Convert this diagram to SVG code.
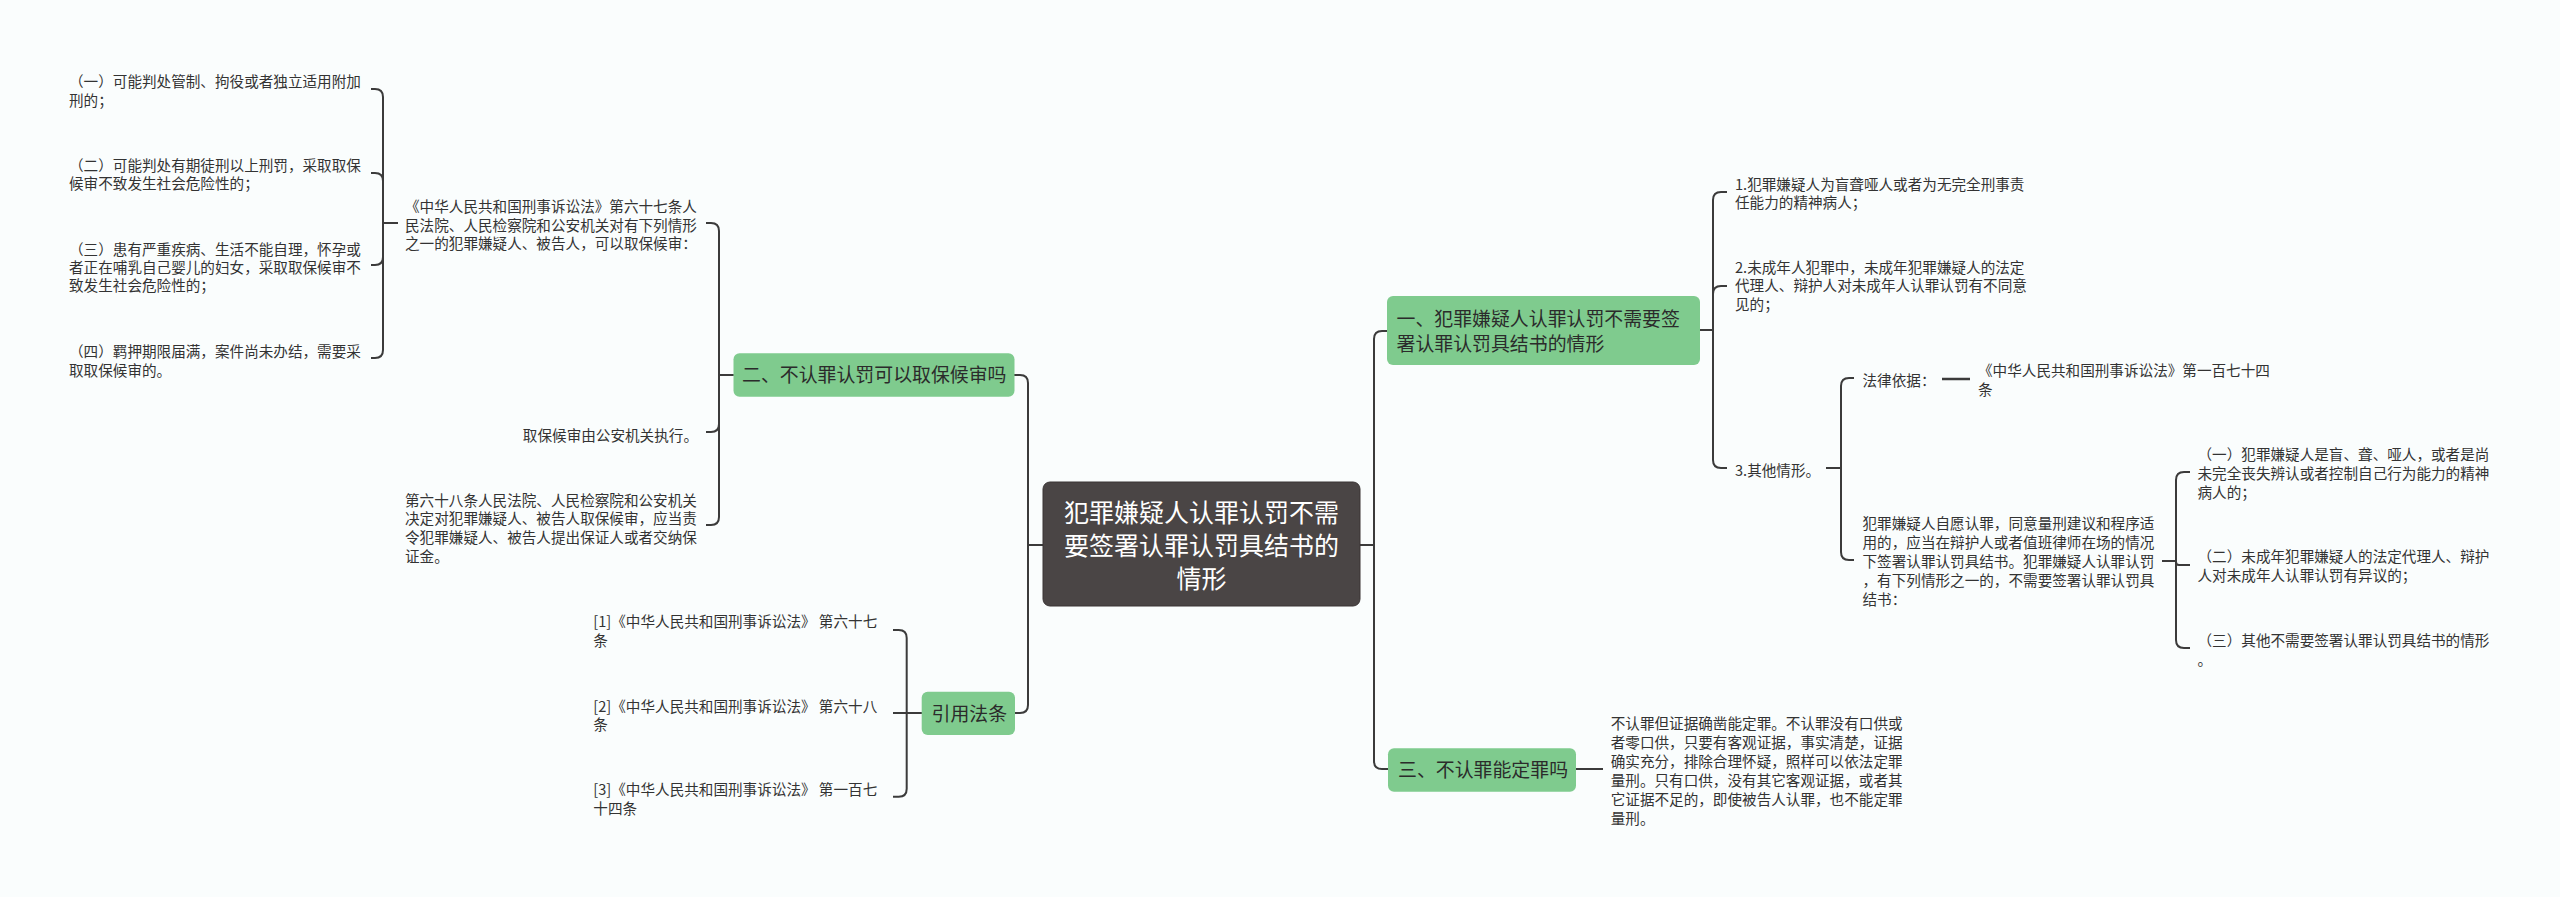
<svg xmlns="http://www.w3.org/2000/svg" width="2560" height="897" viewBox="0 0 2560 897">
<style>
.bg{fill:#fafdfd}
.c{fill:none;stroke:#3b3b3b;stroke-width:2}
.t{font-family:"Noto Sans CJK SC","Noto Sans",sans-serif;font-size:14.6px;fill:#333}
.g{fill:#7fcb8e}
.gt{font-family:"Noto Sans CJK SC","Noto Sans",sans-serif;font-size:18.9px;fill:#2b2b2b}
.r{fill:#4a4545;stroke:#3a3535;stroke-width:1}
.rt{font-family:"Noto Sans CJK SC","Noto Sans",sans-serif;font-size:25px;fill:#ffffff}
</style>
<rect class="bg" x="0" y="0" width="2560" height="897"/>
<g id="connectors">
<path class="c" d="M1043,545 H1028 V383 Q1028,375 1020,375 H1014"/>
<path class="c" d="M1043,545 H1028 V705 Q1028,713 1020,713 H1015"/>
<path class="c" d="M733.5,375 H719 V231 Q719,223 711,223 H706"/>
<path class="c" d="M733.5,375 H719 V424 Q719,432 711,432 H706"/>
<path class="c" d="M733.5,375 H719 V517 Q719,525 711,525 H706"/>
<path class="c" d="M398,223 H383 V97 Q383,89 375,89 H371"/>
<path class="c" d="M398,223 H383 V181 Q383,173 375,173 H371"/>
<path class="c" d="M398,223 H383 V257 Q383,265 375,265 H371"/>
<path class="c" d="M398,223 H383 V350 Q383,358 375,358 H371"/>
<path class="c" d="M921.7,713 H906.7 V638 Q906.7,630 898.7,630 H893"/>
<path class="c" d="M921.7,713 H893"/>
<path class="c" d="M921.7,713 H906.7 V788.7 Q906.7,796.7 898.7,796.7 H893"/>
<path class="c" d="M1360,545 H1374 V339 Q1374,331 1382,331 H1387"/>
<path class="c" d="M1360,545 H1374 V761 Q1374,769 1382,769 H1388"/>
<path class="c" d="M1700,330 H1713 V200 Q1713,192 1721,192 H1727"/>
<path class="c" d="M1700,330 H1713 V294 Q1713,286 1721,286 H1727"/>
<path class="c" d="M1700,330 H1713 V460 Q1713,468 1721,468 H1727"/>
<path class="c" d="M1826,468 H1841 V386 Q1841,378 1849,378 H1854"/>
<path class="c" d="M1826,468 H1841 V552 Q1841,560 1849,560 H1854"/>
<path class="c" d="M1942,379 H1970" style="stroke-width:2.5"/>
<path class="c" d="M2162,561 H2176 V480 Q2176,472 2184,472 H2190"/>
<path class="c" d="M2162,561 H2176 V562 Q2176,565 2179,565 H2190"/>
<path class="c" d="M2162,561 H2176 V640 Q2176,648 2184,648 H2190"/>
<path class="c" d="M1576,769 H1603"/>
</g>
<g id="root">
<rect class="r" x="1043" y="482" width="317" height="124" rx="7"/>
<text class="rt" text-anchor="middle"><tspan x="1201.5" y="521.5">犯罪嫌疑人认罪认罚不需</tspan><tspan x="1201.5" y="554.5">要签署认罪认罚具结书的</tspan><tspan x="1201.5" y="587.5">情形</tspan></text>
</g>
<g id="node-er">
<rect class="g" x="733.5" y="353.3" width="281" height="43.4" rx="6"/>
<text class="gt" x="742" y="382">二、不认罪认罚可以取保候审吗</text>
</g>
<g id="node-yinyong">
<rect class="g" x="921.7" y="691.7" width="93.3" height="43.3" rx="6"/>
<text class="gt" x="931.5" y="720.5">引用法条</text>
</g>
<g id="node-yi">
<rect class="g" x="1387" y="296" width="313" height="69" rx="6"/>
<text class="gt"><tspan x="1396.5" y="325.5">一、犯罪嫌疑人认罪认罚不需要签</tspan><tspan x="1396.5" y="350.5">署认罪认罚具结书的情形</tspan></text>
</g>
<g id="node-san">
<rect class="g" x="1388" y="748.3" width="188" height="43.4" rx="6"/>
<text class="gt" x="1398" y="777">三、不认罪能定罪吗</text>
</g>
<g id="leaf-l1"><text class="t"><tspan x="69" y="87.2">（一）可能判处管制、拘役或者独立适用附加</tspan><tspan x="69" y="105.5">刑的；</tspan></text></g>
<g id="leaf-l2"><text class="t"><tspan x="69" y="170.5">（二）可能判处有期徒刑以上刑罚，采取取保</tspan><tspan x="69" y="188.8">候审不致发生社会危险性的；</tspan></text></g>
<g id="leaf-l3"><text class="t"><tspan x="69" y="254.5">（三）患有严重疾病、生活不能自理，怀孕或</tspan><tspan x="69" y="272.8">者正在哺乳自己婴儿的妇女，采取取保候审不</tspan><tspan x="69" y="291.2">致发生社会危险性的；</tspan></text></g>
<g id="leaf-l4"><text class="t"><tspan x="69" y="357.2">（四）羁押期限届满，案件尚未办结，需要采</tspan><tspan x="69" y="375.5">取取保候审的。</tspan></text></g>
<g id="leaf-67"><text class="t"><tspan x="405" y="212.2">《中华人民共和国刑事诉讼法》第六十七条人</tspan><tspan x="405" y="230.8">民法院、人民检察院和公安机关对有下列情形</tspan><tspan x="405" y="249.4">之一的犯罪嫌疑人、被告人，可以取保候审：</tspan></text></g>
<g id="leaf-exec"><text class="t" x="698" y="440.5" text-anchor="end">取保候审由公安机关执行。</text></g>
<g id="leaf-68"><text class="t"><tspan x="405" y="505.5">第六十八条人民法院、人民检察院和公安机关</tspan><tspan x="405" y="524.2">决定对犯罪嫌疑人、被告人取保候审，应当责</tspan><tspan x="405" y="543">令犯罪嫌疑人、被告人提出保证人或者交纳保</tspan><tspan x="405" y="561.7">证金。</tspan></text></g>
<g id="leaf-ref1"><text class="t"><tspan x="593.3" y="627.2">[1]《中华人民共和国刑事诉讼法》 第六十七</tspan><tspan x="593.3" y="645.5">条</tspan></text></g>
<g id="leaf-ref2"><text class="t"><tspan x="593.3" y="711.5">[2]《中华人民共和国刑事诉讼法》 第六十八</tspan><tspan x="593.3" y="729.8">条</tspan></text></g>
<g id="leaf-ref3"><text class="t"><tspan x="593.3" y="795">[3]《中华人民共和国刑事诉讼法》 第一百七</tspan><tspan x="593.3" y="813.5">十四条</tspan></text></g>
<g id="leaf-r1"><text class="t"><tspan x="1735" y="189.5">1.犯罪嫌疑人为盲聋哑人或者为无完全刑事责</tspan><tspan x="1735" y="208.2">任能力的精神病人；</tspan></text></g>
<g id="leaf-r2"><text class="t"><tspan x="1735" y="272.8">2.未成年人犯罪中，未成年犯罪嫌疑人的法定</tspan><tspan x="1735" y="291.4">代理人、辩护人对未成年人认罪认罚有不同意</tspan><tspan x="1735" y="310">见的；</tspan></text></g>
<g id="leaf-r3"><text class="t" x="1735" y="475.5">3.其他情形。</text></g>
<g id="leaf-basis"><text class="t" x="1862.5" y="385.5">法律依据：</text></g>
<g id="leaf-174"><text class="t"><tspan x="1978" y="375.5">《中华人民共和国刑事诉讼法》第一百七十四</tspan><tspan x="1978" y="394.8">条</tspan></text></g>
<g id="leaf-vol"><text class="t"><tspan x="1862.5" y="528.8">犯罪嫌疑人自愿认罪，同意量刑建议和程序适</tspan><tspan x="1862.5" y="547.8">用的，应当在辩护人或者值班律师在场的情况</tspan><tspan x="1862.5" y="566.8">下签署认罪认罚具结书。犯罪嫌疑人认罪认罚</tspan><tspan x="1862.5" y="585.8">，有下列情形之一的，不需要签署认罪认罚具</tspan><tspan x="1862.5" y="604.8">结书：</tspan></text></g>
<g id="leaf-s1"><text class="t"><tspan x="2197.5" y="459.5">（一）犯罪嫌疑人是盲、聋、哑人，或者是尚</tspan><tspan x="2197.5" y="478.8">未完全丧失辨认或者控制自己行为能力的精神</tspan><tspan x="2197.5" y="498">病人的；</tspan></text></g>
<g id="leaf-s2"><text class="t"><tspan x="2197.5" y="562.2">（二）未成年犯罪嫌疑人的法定代理人、辩护</tspan><tspan x="2197.5" y="581.2">人对未成年人认罪认罚有异议的；</tspan></text></g>
<g id="leaf-s3"><text class="t"><tspan x="2197.5" y="645.5">（三）其他不需要签署认罪认罚具结书的情形</tspan><tspan x="2197.5" y="664.5">。</tspan></text></g>
<g id="leaf-conv"><text class="t"><tspan x="1610.7" y="728.8">不认罪但证据确凿能定罪。不认罪没有口供或</tspan><tspan x="1610.7" y="747.8">者零口供，只要有客观证据，事实清楚，证据</tspan><tspan x="1610.7" y="766.6">确实充分，排除合理怀疑，照样可以依法定罪</tspan><tspan x="1610.7" y="785.6">量刑。只有口供，没有其它客观证据，或者其</tspan><tspan x="1610.7" y="804.6">它证据不足的，即使被告人认罪，也不能定罪</tspan><tspan x="1610.7" y="823.6">量刑。</tspan></text></g>
</svg>
